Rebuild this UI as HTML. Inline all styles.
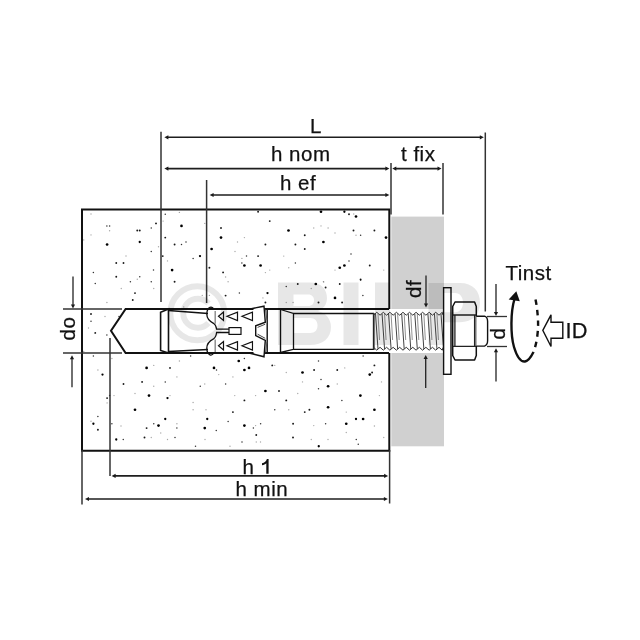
<!DOCTYPE html>
<html><head><meta charset="utf-8"><style>html,body{margin:0;padding:0;background:#fff;}svg{display:block;will-change:transform;}</style></head>
<body><svg width="640" height="640" viewBox="0 0 640 640">
<rect width="640" height="640" fill="#fff"/>
<rect x="391.3" y="216.6" width="52.7" height="229.7" fill="#d0d0d0"/>
<rect x="389" y="309" width="56" height="44" fill="#fff"/>
<circle cx="91" cy="214" r="0.7" fill="#000" opacity="0.35"/><circle cx="106.9" cy="225.9" r="0.75" fill="#000" opacity="0.8"/><circle cx="109.6" cy="225.9" r="0.75" fill="#000" opacity="0.8"/><circle cx="109.6" cy="230.75" r="0.7" fill="#000" opacity="0.35"/><circle cx="156" cy="223.4" r="0.95" fill="#000" opacity="0.9"/><circle cx="151.25" cy="228" r="0.75" fill="#000" opacity="0.8"/><circle cx="137.25" cy="230.5" r="0.95" fill="#000" opacity="0.9"/><circle cx="139.75" cy="230.5" r="0.95" fill="#000" opacity="0.9"/><circle cx="91" cy="234.9" r="0.7" fill="#000" opacity="0.35"/><circle cx="83.75" cy="239.9" r="0.7" fill="#000" opacity="0.35"/><circle cx="139.75" cy="242" r="1.15" fill="#000" opacity="1.0"/><circle cx="107.1" cy="244.5" r="1.35" fill="#000" opacity="1.0"/><circle cx="158.5" cy="246.75" r="0.7" fill="#000" opacity="0.35"/><circle cx="151.25" cy="251.5" r="0.75" fill="#000" opacity="0.8"/><circle cx="126" cy="256" r="0.7" fill="#000" opacity="0.35"/><circle cx="116.25" cy="263" r="0.95" fill="#000" opacity="0.9"/><circle cx="123.5" cy="263" r="0.95" fill="#000" opacity="0.9"/><circle cx="153.5" cy="270" r="0.75" fill="#000" opacity="0.8"/><circle cx="93.4" cy="272.6" r="0.75" fill="#000" opacity="0.8"/><circle cx="116.25" cy="276.75" r="0.95" fill="#000" opacity="0.9"/><circle cx="139.75" cy="276.75" r="0.75" fill="#000" opacity="0.8"/><circle cx="137.25" cy="279.25" r="0.7" fill="#000" opacity="0.35"/><circle cx="130.4" cy="281.75" r="0.75" fill="#000" opacity="0.8"/><circle cx="151.25" cy="281.75" r="0.75" fill="#000" opacity="0.8"/><circle cx="95.25" cy="283.6" r="0.75" fill="#000" opacity="0.8"/><circle cx="165.25" cy="214.25" r="0.75" fill="#000" opacity="0.8"/><circle cx="179.4" cy="212.4" r="0.7" fill="#000" opacity="0.35"/><circle cx="163.1" cy="221.1" r="0.7" fill="#000" opacity="0.35"/><circle cx="181.5" cy="225.9" r="1.35" fill="#000" opacity="1.0"/><circle cx="204.75" cy="223.4" r="0.7" fill="#000" opacity="0.35"/><circle cx="221" cy="228" r="0.95" fill="#000" opacity="0.9"/><circle cx="221" cy="237.6" r="1.35" fill="#000" opacity="1.0"/><circle cx="165.25" cy="237.6" r="0.95" fill="#000" opacity="0.9"/><circle cx="186" cy="242" r="0.75" fill="#000" opacity="0.8"/><circle cx="174.6" cy="244.5" r="0.95" fill="#000" opacity="0.9"/><circle cx="181.5" cy="244.5" r="0.75" fill="#000" opacity="0.8"/><circle cx="237.5" cy="242" r="0.7" fill="#000" opacity="0.35"/><circle cx="211.6" cy="249" r="1.35" fill="#000" opacity="1.0"/><circle cx="235" cy="251.5" r="0.7" fill="#000" opacity="0.35"/><circle cx="162.75" cy="256.1" r="0.95" fill="#000" opacity="0.9"/><circle cx="200" cy="256.1" r="1.15" fill="#000" opacity="1.0"/><circle cx="193.1" cy="258.4" r="0.75" fill="#000" opacity="0.8"/><circle cx="167.5" cy="260.9" r="0.7" fill="#000" opacity="0.35"/><circle cx="172.1" cy="270.1" r="1.35" fill="#000" opacity="1.0"/><circle cx="209.4" cy="267.75" r="0.95" fill="#000" opacity="0.9"/><circle cx="223.1" cy="272.4" r="0.95" fill="#000" opacity="0.9"/><circle cx="225.6" cy="277" r="0.7" fill="#000" opacity="0.35"/><circle cx="228.1" cy="281.75" r="0.7" fill="#000" opacity="0.35"/><circle cx="174.6" cy="281.75" r="0.95" fill="#000" opacity="0.9"/><circle cx="258.1" cy="211.75" r="0.95" fill="#000" opacity="0.9"/><circle cx="269.75" cy="221.1" r="0.95" fill="#000" opacity="0.9"/><circle cx="288.5" cy="230.5" r="1.35" fill="#000" opacity="1.0"/><circle cx="313.75" cy="228" r="0.7" fill="#000" opacity="0.35"/><circle cx="304.75" cy="235.25" r="0.95" fill="#000" opacity="0.9"/><circle cx="244.4" cy="237.6" r="0.7" fill="#000" opacity="0.35"/><circle cx="265.4" cy="244.5" r="0.95" fill="#000" opacity="0.9"/><circle cx="295.4" cy="244.5" r="0.95" fill="#000" opacity="0.9"/><circle cx="304.75" cy="249" r="0.95" fill="#000" opacity="0.9"/><circle cx="246.5" cy="256.1" r="0.75" fill="#000" opacity="0.8"/><circle cx="258.1" cy="256.1" r="0.95" fill="#000" opacity="0.9"/><circle cx="241.9" cy="258.4" r="0.7" fill="#000" opacity="0.35"/><circle cx="241.9" cy="263" r="0.75" fill="#000" opacity="0.8"/><circle cx="244.4" cy="265.5" r="1.35" fill="#000" opacity="1.0"/><circle cx="260.6" cy="265.5" r="1.35" fill="#000" opacity="1.0"/><circle cx="283.75" cy="256.1" r="0.7" fill="#000" opacity="0.35"/><circle cx="295.4" cy="263" r="0.75" fill="#000" opacity="0.8"/><circle cx="288.75" cy="267.75" r="0.7" fill="#000" opacity="0.35"/><circle cx="269.75" cy="270.1" r="0.7" fill="#000" opacity="0.35"/><circle cx="265.4" cy="272.6" r="0.7" fill="#000" opacity="0.35"/><circle cx="297.75" cy="284" r="0.95" fill="#000" opacity="0.9"/><circle cx="286.25" cy="286.5" r="0.75" fill="#000" opacity="0.8"/><circle cx="315.8" cy="284" r="1.35" fill="#000" opacity="1.0"/><circle cx="321" cy="211.75" r="1.35" fill="#000" opacity="1.0"/><circle cx="344.4" cy="211.75" r="1.15" fill="#000" opacity="1.0"/><circle cx="349" cy="214.25" r="0.95" fill="#000" opacity="0.9"/><circle cx="353.75" cy="214" r="0.7" fill="#000" opacity="0.35"/><circle cx="356" cy="216.5" r="1.35" fill="#000" opacity="1.0"/><circle cx="321" cy="225.9" r="0.7" fill="#000" opacity="0.35"/><circle cx="328.1" cy="228" r="0.7" fill="#000" opacity="0.35"/><circle cx="335" cy="233" r="0.7" fill="#000" opacity="0.35"/><circle cx="353.5" cy="230.5" r="0.95" fill="#000" opacity="0.9"/><circle cx="374.4" cy="230.5" r="0.95" fill="#000" opacity="0.9"/><circle cx="356" cy="235.25" r="0.7" fill="#000" opacity="0.35"/><circle cx="360.6" cy="235.25" r="0.75" fill="#000" opacity="0.8"/><circle cx="386" cy="237.6" r="1.35" fill="#000" opacity="1.0"/><circle cx="323.4" cy="242" r="1.35" fill="#000" opacity="1.0"/><circle cx="351" cy="253.9" r="0.75" fill="#000" opacity="0.8"/><circle cx="349" cy="260.9" r="0.75" fill="#000" opacity="0.8"/><circle cx="344.4" cy="265.5" r="1.35" fill="#000" opacity="1.0"/><circle cx="339.75" cy="267.75" r="1.35" fill="#000" opacity="1.0"/><circle cx="335" cy="270.1" r="0.7" fill="#000" opacity="0.35"/><circle cx="369.75" cy="265.5" r="0.95" fill="#000" opacity="0.9"/><circle cx="383.75" cy="270.1" r="0.7" fill="#000" opacity="0.35"/><circle cx="360.6" cy="279.5" r="0.95" fill="#000" opacity="0.9"/><circle cx="323.4" cy="281.75" r="0.7" fill="#000" opacity="0.35"/><circle cx="339.75" cy="284" r="0.95" fill="#000" opacity="0.9"/><circle cx="325.6" cy="287.5" r="0.95" fill="#000" opacity="0.9"/><circle cx="121.25" cy="288.5" r="0.7" fill="#000" opacity="0.35"/><circle cx="153.75" cy="288.5" r="0.7" fill="#000" opacity="0.35"/><circle cx="135" cy="293.1" r="0.95" fill="#000" opacity="0.9"/><circle cx="132.75" cy="300" r="0.95" fill="#000" opacity="0.9"/><circle cx="106.9" cy="302.5" r="0.7" fill="#000" opacity="0.35"/><circle cx="91" cy="314" r="0.95" fill="#000" opacity="0.9"/><circle cx="105" cy="316.5" r="0.7" fill="#000" opacity="0.35"/><circle cx="119" cy="316.5" r="0.75" fill="#000" opacity="0.8"/><circle cx="91" cy="321.25" r="0.75" fill="#000" opacity="0.8"/><circle cx="88.5" cy="328" r="0.7" fill="#000" opacity="0.35"/><circle cx="95.25" cy="332.9" r="0.95" fill="#000" opacity="0.9"/><circle cx="106.9" cy="335" r="0.75" fill="#000" opacity="0.8"/><circle cx="83.75" cy="351.5" r="0.7" fill="#000" opacity="0.35"/><circle cx="93.4" cy="356" r="0.75" fill="#000" opacity="0.8"/><circle cx="202.25" cy="295.4" r="0.7" fill="#000" opacity="0.35"/><circle cx="209.4" cy="295.4" r="0.7" fill="#000" opacity="0.35"/><circle cx="225.6" cy="295.6" r="0.95" fill="#000" opacity="0.9"/><circle cx="239.4" cy="293.1" r="0.75" fill="#000" opacity="0.8"/><circle cx="183.75" cy="306.9" r="0.7" fill="#000" opacity="0.35"/><circle cx="267.5" cy="293.1" r="1.15" fill="#000" opacity="1.0"/><circle cx="262.9" cy="297.9" r="0.7" fill="#000" opacity="0.35"/><circle cx="265.4" cy="302.5" r="0.95" fill="#000" opacity="0.9"/><circle cx="311.25" cy="288.5" r="0.7" fill="#000" opacity="0.35"/><circle cx="286.25" cy="302.5" r="0.7" fill="#000" opacity="0.35"/><circle cx="293.1" cy="302.5" r="0.7" fill="#000" opacity="0.35"/><circle cx="318.5" cy="302.5" r="0.95" fill="#000" opacity="0.9"/><circle cx="335" cy="297.9" r="1.35" fill="#000" opacity="1.0"/><circle cx="342.1" cy="302.5" r="0.95" fill="#000" opacity="0.9"/><circle cx="362.9" cy="295.4" r="0.75" fill="#000" opacity="0.8"/><circle cx="323.75" cy="281.9" r="0.7" fill="#000" opacity="0.35"/><circle cx="360.6" cy="280" r="0.75" fill="#000" opacity="0.8"/><circle cx="97.9" cy="370" r="0.7" fill="#000" opacity="0.35"/><circle cx="102.5" cy="374.6" r="1.15" fill="#000" opacity="1.0"/><circle cx="111.9" cy="358.5" r="0.7" fill="#000" opacity="0.35"/><circle cx="146.6" cy="367.9" r="1.35" fill="#000" opacity="1.0"/><circle cx="153.75" cy="365.4" r="0.7" fill="#000" opacity="0.35"/><circle cx="123.5" cy="384" r="0.95" fill="#000" opacity="0.9"/><circle cx="142.1" cy="381.9" r="0.95" fill="#000" opacity="0.9"/><circle cx="153.75" cy="386.25" r="0.7" fill="#000" opacity="0.35"/><circle cx="135" cy="393.5" r="0.7" fill="#000" opacity="0.35"/><circle cx="149" cy="395.6" r="1.35" fill="#000" opacity="1.0"/><circle cx="107.1" cy="398.1" r="0.95" fill="#000" opacity="0.9"/><circle cx="109.6" cy="395.6" r="0.75" fill="#000" opacity="0.8"/><circle cx="114" cy="395.6" r="0.7" fill="#000" opacity="0.35"/><circle cx="107.1" cy="402.9" r="0.7" fill="#000" opacity="0.35"/><circle cx="135" cy="409.75" r="1.35" fill="#000" opacity="1.0"/><circle cx="97.9" cy="416.6" r="0.75" fill="#000" opacity="0.8"/><circle cx="93.4" cy="423.75" r="1.15" fill="#000" opacity="1.0"/><circle cx="91" cy="421.25" r="0.7" fill="#000" opacity="0.35"/><circle cx="111.9" cy="423.75" r="0.75" fill="#000" opacity="0.8"/><circle cx="121" cy="426" r="0.7" fill="#000" opacity="0.35"/><circle cx="153.75" cy="423.75" r="0.75" fill="#000" opacity="0.8"/><circle cx="158.5" cy="425.6" r="1.35" fill="#000" opacity="1.0"/><circle cx="146.6" cy="428.1" r="0.95" fill="#000" opacity="0.9"/><circle cx="97.9" cy="429.8" r="0.95" fill="#000" opacity="0.9"/><circle cx="190.6" cy="356" r="0.75" fill="#000" opacity="0.8"/><circle cx="179.4" cy="361" r="0.7" fill="#000" opacity="0.35"/><circle cx="170" cy="367.9" r="0.95" fill="#000" opacity="0.9"/><circle cx="238.75" cy="361" r="1.35" fill="#000" opacity="1.0"/><circle cx="214" cy="367.9" r="1.35" fill="#000" opacity="1.0"/><circle cx="216.5" cy="370" r="0.75" fill="#000" opacity="0.8"/><circle cx="218.75" cy="374.6" r="0.7" fill="#000" opacity="0.35"/><circle cx="176.9" cy="376.9" r="0.7" fill="#000" opacity="0.35"/><circle cx="232.9" cy="376.9" r="0.7" fill="#000" opacity="0.35"/><circle cx="165.25" cy="381.9" r="0.75" fill="#000" opacity="0.8"/><circle cx="200.25" cy="386.25" r="0.75" fill="#000" opacity="0.8"/><circle cx="204.75" cy="384" r="0.7" fill="#000" opacity="0.35"/><circle cx="225.6" cy="384" r="0.75" fill="#000" opacity="0.8"/><circle cx="170" cy="395.6" r="0.7" fill="#000" opacity="0.35"/><circle cx="167.5" cy="398.1" r="1.15" fill="#000" opacity="1.0"/><circle cx="234.75" cy="395.6" r="0.7" fill="#000" opacity="0.35"/><circle cx="193.1" cy="402.5" r="0.7" fill="#000" opacity="0.35"/><circle cx="193.1" cy="409.75" r="0.7" fill="#000" opacity="0.35"/><circle cx="206" cy="409.75" r="0.7" fill="#000" opacity="0.35"/><circle cx="232.9" cy="412.1" r="0.95" fill="#000" opacity="0.9"/><circle cx="165.25" cy="419" r="1.15" fill="#000" opacity="1.0"/><circle cx="207.25" cy="419" r="1.15" fill="#000" opacity="1.0"/><circle cx="228.1" cy="421.5" r="0.75" fill="#000" opacity="0.8"/><circle cx="176.9" cy="423.75" r="0.7" fill="#000" opacity="0.35"/><circle cx="176.9" cy="428.1" r="0.75" fill="#000" opacity="0.8"/><circle cx="204.75" cy="428.1" r="1.35" fill="#000" opacity="1.0"/><circle cx="244.4" cy="358.5" r="0.75" fill="#000" opacity="0.8"/><circle cx="249" cy="367.9" r="1.35" fill="#000" opacity="1.0"/><circle cx="244.4" cy="370" r="1.35" fill="#000" opacity="1.0"/><circle cx="272.25" cy="365.4" r="0.95" fill="#000" opacity="0.9"/><circle cx="274.75" cy="365.4" r="0.7" fill="#000" opacity="0.35"/><circle cx="286.25" cy="372.5" r="0.7" fill="#000" opacity="0.35"/><circle cx="302.5" cy="372.5" r="1.35" fill="#000" opacity="1.0"/><circle cx="314.1" cy="370" r="0.95" fill="#000" opacity="0.9"/><circle cx="318.5" cy="361" r="0.75" fill="#000" opacity="0.8"/><circle cx="302.5" cy="381.9" r="0.7" fill="#000" opacity="0.35"/><circle cx="265.4" cy="391" r="1.35" fill="#000" opacity="1.0"/><circle cx="279" cy="391" r="0.95" fill="#000" opacity="0.9"/><circle cx="318.5" cy="388.75" r="0.75" fill="#000" opacity="0.8"/><circle cx="297.75" cy="393.5" r="0.7" fill="#000" opacity="0.35"/><circle cx="255.6" cy="395.6" r="0.7" fill="#000" opacity="0.35"/><circle cx="244.4" cy="400.4" r="0.95" fill="#000" opacity="0.9"/><circle cx="286.25" cy="400.4" r="0.95" fill="#000" opacity="0.9"/><circle cx="274.75" cy="409.75" r="0.75" fill="#000" opacity="0.8"/><circle cx="288.75" cy="409.75" r="0.7" fill="#000" opacity="0.35"/><circle cx="304.75" cy="412.1" r="0.95" fill="#000" opacity="0.9"/><circle cx="309.4" cy="409.75" r="0.95" fill="#000" opacity="0.9"/><circle cx="244.4" cy="425.6" r="1.35" fill="#000" opacity="1.0"/><circle cx="260.6" cy="423.75" r="0.75" fill="#000" opacity="0.8"/><circle cx="255.6" cy="425.6" r="0.7" fill="#000" opacity="0.35"/><circle cx="293.1" cy="423.75" r="0.95" fill="#000" opacity="0.9"/><circle cx="253.4" cy="428.1" r="0.75" fill="#000" opacity="0.8"/><circle cx="313.75" cy="425.6" r="0.7" fill="#000" opacity="0.35"/><circle cx="363.1" cy="356" r="0.75" fill="#000" opacity="0.8"/><circle cx="337.25" cy="370" r="0.95" fill="#000" opacity="0.9"/><circle cx="344.75" cy="367.9" r="0.7" fill="#000" opacity="0.35"/><circle cx="374.4" cy="365.4" r="0.95" fill="#000" opacity="0.9"/><circle cx="372.1" cy="372.5" r="0.95" fill="#000" opacity="0.9"/><circle cx="369.75" cy="374.6" r="1.35" fill="#000" opacity="1.0"/><circle cx="321" cy="379.4" r="0.75" fill="#000" opacity="0.8"/><circle cx="337.25" cy="384" r="0.7" fill="#000" opacity="0.35"/><circle cx="381.5" cy="381.9" r="0.7" fill="#000" opacity="0.35"/><circle cx="328.1" cy="386.25" r="1.35" fill="#000" opacity="1.0"/><circle cx="360.4" cy="395.6" r="1.35" fill="#000" opacity="1.0"/><circle cx="379.4" cy="395.6" r="0.7" fill="#000" opacity="0.35"/><circle cx="341.9" cy="400.4" r="0.75" fill="#000" opacity="0.8"/><circle cx="328.1" cy="407.25" r="1.35" fill="#000" opacity="1.0"/><circle cx="374.4" cy="409.75" r="1.35" fill="#000" opacity="1.0"/><circle cx="346.25" cy="412.1" r="0.7" fill="#000" opacity="0.35"/><circle cx="356" cy="419" r="1.15" fill="#000" opacity="1.0"/><circle cx="363.1" cy="419" r="1.35" fill="#000" opacity="1.0"/><circle cx="325.6" cy="423.75" r="0.75" fill="#000" opacity="0.8"/><circle cx="346.25" cy="423.75" r="1.35" fill="#000" opacity="1.0"/><circle cx="374.4" cy="426" r="0.7" fill="#000" opacity="0.35"/><circle cx="116.25" cy="439.5" r="1.15" fill="#000" opacity="1.0"/><circle cx="123.25" cy="439.5" r="0.75" fill="#000" opacity="0.8"/><circle cx="144.5" cy="437.5" r="0.95" fill="#000" opacity="0.9"/><circle cx="151.25" cy="437.5" r="0.7" fill="#000" opacity="0.35"/><circle cx="160.75" cy="433" r="0.7" fill="#000" opacity="0.35"/><circle cx="175" cy="437.5" r="0.75" fill="#000" opacity="0.8"/><circle cx="167.5" cy="439.5" r="0.7" fill="#000" opacity="0.35"/><circle cx="216.25" cy="430.5" r="0.75" fill="#000" opacity="0.8"/><circle cx="205" cy="439.5" r="0.7" fill="#000" opacity="0.35"/><circle cx="195.5" cy="446.25" r="0.75" fill="#000" opacity="0.8"/><circle cx="230" cy="446.25" r="0.7" fill="#000" opacity="0.35"/><circle cx="256.25" cy="435" r="0.95" fill="#000" opacity="0.9"/><circle cx="242" cy="442" r="0.75" fill="#000" opacity="0.8"/><circle cx="256.25" cy="442" r="0.7" fill="#000" opacity="0.35"/><circle cx="260.5" cy="442" r="0.7" fill="#000" opacity="0.35"/><circle cx="293" cy="437.5" r="0.95" fill="#000" opacity="0.9"/><circle cx="311.25" cy="439.5" r="0.7" fill="#000" opacity="0.35"/><circle cx="318.75" cy="446.25" r="1.15" fill="#000" opacity="1.0"/><circle cx="328" cy="439.5" r="0.7" fill="#000" opacity="0.35"/><circle cx="346.25" cy="432.5" r="0.7" fill="#000" opacity="0.35"/><circle cx="356.25" cy="439.5" r="0.75" fill="#000" opacity="0.8"/><circle cx="358.25" cy="444.25" r="0.75" fill="#000" opacity="0.8"/><circle cx="383.75" cy="437.5" r="0.7" fill="#000" opacity="0.35"/>
<path d="M389.3,309 V209.5 H82 V450.8 H389.3 V353" fill="none" stroke="#111" stroke-width="2"/>
<line x1="161" y1="131.8" x2="161" y2="302" stroke="#333" stroke-width="1.5"/><line x1="206.6" y1="180" x2="206.6" y2="303" stroke="#333" stroke-width="1.5"/><line x1="391" y1="163" x2="391" y2="214.5" stroke="#333" stroke-width="1.5"/><line x1="443" y1="163" x2="443" y2="214.5" stroke="#333" stroke-width="1.5"/><line x1="485.3" y1="132.5" x2="485.3" y2="311.5" stroke="#333" stroke-width="1.5"/><line x1="82" y1="450" x2="82" y2="504.5" stroke="#333" stroke-width="1.5"/><line x1="389.6" y1="450" x2="389.6" y2="503.5" stroke="#333" stroke-width="1.5"/><line x1="110" y1="338" x2="110" y2="476" stroke="#333" stroke-width="1.5"/><line x1="63" y1="309" x2="122" y2="309" stroke="#333" stroke-width="1.3"/><line x1="63" y1="353" x2="122" y2="353" stroke="#333" stroke-width="1.3"/><line x1="487" y1="316.5" x2="507" y2="316.5" stroke="#333" stroke-width="1.3"/><line x1="487" y1="346.5" x2="507" y2="346.5" stroke="#333" stroke-width="1.3"/><line x1="167.4" y1="137.3" x2="480.8" y2="137.3" stroke="#1e1e1e" stroke-width="1.6"/><polygon points="164.40,137.30 168.40,135.20 168.40,139.40" fill="#1a1a1a"/><polygon points="483.80,137.30 479.80,135.20 479.80,139.40" fill="#1a1a1a"/><line x1="167.4" y1="168.6" x2="386.4" y2="168.6" stroke="#1e1e1e" stroke-width="1.6"/><polygon points="164.40,168.60 168.40,166.50 168.40,170.70" fill="#1a1a1a"/><polygon points="389.40,168.60 385.40,166.50 385.40,170.70" fill="#1a1a1a"/><line x1="395.3" y1="168.6" x2="438.5" y2="168.6" stroke="#1e1e1e" stroke-width="1.6"/><polygon points="392.30,168.60 396.30,166.50 396.30,170.70" fill="#1a1a1a"/><polygon points="441.50,168.60 437.50,166.50 437.50,170.70" fill="#1a1a1a"/><line x1="212.6" y1="195" x2="386.4" y2="195" stroke="#1e1e1e" stroke-width="1.6"/><polygon points="209.60,195.00 213.60,192.90 213.60,197.10" fill="#1a1a1a"/><polygon points="389.40,195.00 385.40,192.90 385.40,197.10" fill="#1a1a1a"/><line x1="114.6" y1="475.9" x2="385.1" y2="475.9" stroke="#1e1e1e" stroke-width="1.6"/><polygon points="111.60,475.90 115.60,473.80 115.60,478.00" fill="#1a1a1a"/><polygon points="388.10,475.90 384.10,473.80 384.10,478.00" fill="#1a1a1a"/><line x1="88" y1="499" x2="384.9" y2="499" stroke="#1e1e1e" stroke-width="1.6"/><polygon points="85.00,499.00 89.00,496.90 89.00,501.10" fill="#1a1a1a"/><polygon points="387.90,499.00 383.90,496.90 383.90,501.10" fill="#1a1a1a"/><line x1="73" y1="276.6" x2="73" y2="305.4" stroke="#222" stroke-width="1.3"/><polygon points="73.00,308.40 70.90,304.40 75.10,304.40" fill="#1a1a1a"/><line x1="72" y1="358.3" x2="72" y2="387.2" stroke="#222" stroke-width="1.3"/><polygon points="72.00,355.30 69.90,359.30 74.10,359.30" fill="#1a1a1a"/><line x1="426" y1="275.6" x2="426" y2="304.6" stroke="#222" stroke-width="1.3"/><polygon points="426.00,307.60 423.90,303.60 428.10,303.60" fill="#1a1a1a"/><line x1="425.7" y1="358" x2="425.7" y2="388" stroke="#222" stroke-width="1.3"/><polygon points="425.70,355.00 423.60,359.00 427.80,359.00" fill="#1a1a1a"/><line x1="496" y1="284" x2="496" y2="313" stroke="#222" stroke-width="1.3"/><polygon points="496.00,316.00 493.90,312.00 498.10,312.00" fill="#1a1a1a"/><line x1="496" y1="351.3" x2="496" y2="381.6" stroke="#222" stroke-width="1.3"/><polygon points="496.00,348.30 493.90,352.30 498.10,352.30" fill="#1a1a1a"/>
<polyline points="389,309 125.6,309 111,330.8 125.6,353 389,353" stroke="#111" fill="none" stroke-width="2"/><path d="M168.5,309 L160.6,312.3 L160.6,350.5 L168.5,353 Z" stroke="#111" fill="none" stroke-width="1.6" fill="#fff"/><path d="M168.5,310.5 L208,313.5 M168.5,351.5 L208,349.5" stroke="#111" fill="none" stroke-width="1.3"/><path d="M213.8,309 C212.5,307.3 211,306.9 210,307.4 C208,308.4 206.8,311 206.8,314 C206.8,318 210,321.5 213.5,323.3 C215.2,324.3 216.2,326.5 216.6,329.2 H229" stroke="#111" fill="none" stroke-width="1.3" fill="#fff"/><path d="M213.8,353.2 C212.5,354.9 211,355.3 210,354.8 C208,353.8 206.8,351.2 206.8,348.2 C206.8,344.2 210,340.7 213.5,338.9 C215.2,337.9 216.2,335.5 216.6,332.5 H229" stroke="#111" fill="none" stroke-width="1.3" fill="#fff"/><line x1="215.2" y1="311" x2="215.2" y2="323.8" stroke="#888" stroke-width="1.4"/><line x1="215.2" y1="339.6" x2="215.2" y2="351.9" stroke="#888" stroke-width="1.4"/><rect x="229" y="327.6" width="12" height="6.8" stroke="#111" fill="none" stroke-width="1.2"/><polygon points="218.5,316.3 223.5,312.1 223.5,320.5" stroke="#111" fill="none" stroke-width="1.2"/><polygon points="218.5,345.8 223.5,341.6 223.5,350.0" stroke="#111" fill="none" stroke-width="1.2"/><polygon points="227,316.3 237.5,312.1 237.5,320.5" stroke="#111" fill="none" stroke-width="1.2"/><polygon points="227,345.8 237.5,341.6 237.5,350.0" stroke="#111" fill="none" stroke-width="1.2"/><polygon points="242,316.3 252.5,312.1 252.5,320.5" stroke="#111" fill="none" stroke-width="1.2"/><polygon points="242,345.8 252.5,341.6 252.5,350.0" stroke="#111" fill="none" stroke-width="1.2"/><path d="M253.5,308.5 L264,306.2 L265.3,322.2 L255.7,325.8 L255.7,335.6 L265.3,340.3 L264,356.8 L253.5,353.6 Z" fill="#fff" stroke="none"/><path d="M249,309.1 L264,306.2 L265.3,322.2 L255.7,325.8 L255.7,335.6 L265.3,340.3 L264,356.8 L249,353.1" stroke="#111" fill="none" stroke-width="1.4"/><path d="M265.2,324.2 L257.6,327.4 M265.2,338.3 L257.6,334.2" fill="none" stroke="#333" stroke-width="0.9"/><path d="M267.2,309 L267.2,353 M280.5,309 L280.5,353" stroke="#111" fill="none" stroke-width="1.4"/><path d="M265.4,309.5 L267,320 M265.4,352.5 L267,342" fill="none" stroke="#444" stroke-width="0.8"/><path d="M280.5,309.5 L293.5,313.5 L293.5,349.3 L280.5,352.5" stroke="#111" fill="none" stroke-width="1.3"/><path d="M293.5,313.5 H373.5 V349.3 H293.5" stroke="#111" fill="none" stroke-width="1.3"/><path d="M373.5,313.5 L373.50,315.2 L376.77,312.3 L380.05,315.2 L383.32,312.3 L386.60,315.2 L389.88,312.3 L393.15,315.2 L396.42,312.3 L399.70,315.2 L402.97,312.3 L406.25,315.2 L409.52,312.3 L412.80,315.2 L416.07,312.3 L419.35,315.2 L422.62,312.3 L425.90,315.2 L429.17,312.3 L432.45,315.2 L435.72,312.3 L439.00,315.2 L442.27,312.3 L443,315" fill="none" stroke="#333" stroke-width="1"/><path d="M373.5,349.3 L373.50,347.3 L376.77,350.2 L380.05,347.3 L383.32,350.2 L386.60,347.3 L389.88,350.2 L393.15,347.3 L396.42,350.2 L399.70,347.3 L402.97,350.2 L406.25,347.3 L409.52,350.2 L412.80,347.3 L416.07,350.2 L419.35,347.3 L422.62,350.2 L425.90,347.3 L429.17,350.2 L432.45,347.3 L435.72,350.2 L439.00,347.3 L442.27,350.2 L443,347.5" fill="none" stroke="#333" stroke-width="1"/><line x1="375.50" y1="314" x2="378.00" y2="349" stroke="#444" stroke-width="1.0"/><line x1="378.00" y1="314" x2="379.50" y2="340" stroke="#777" stroke-width="0.8"/><line x1="382.05" y1="314" x2="384.55" y2="349" stroke="#444" stroke-width="1.0"/><line x1="384.55" y1="314" x2="386.05" y2="340" stroke="#777" stroke-width="0.8"/><line x1="388.60" y1="314" x2="391.10" y2="349" stroke="#444" stroke-width="1.0"/><line x1="391.10" y1="314" x2="392.60" y2="340" stroke="#777" stroke-width="0.8"/><line x1="395.15" y1="314" x2="397.65" y2="349" stroke="#444" stroke-width="1.0"/><line x1="397.65" y1="314" x2="399.15" y2="340" stroke="#777" stroke-width="0.8"/><line x1="401.70" y1="314" x2="404.20" y2="349" stroke="#444" stroke-width="1.0"/><line x1="404.20" y1="314" x2="405.70" y2="340" stroke="#777" stroke-width="0.8"/><line x1="408.25" y1="314" x2="410.75" y2="349" stroke="#444" stroke-width="1.0"/><line x1="410.75" y1="314" x2="412.25" y2="340" stroke="#777" stroke-width="0.8"/><line x1="414.80" y1="314" x2="417.30" y2="349" stroke="#444" stroke-width="1.0"/><line x1="417.30" y1="314" x2="418.80" y2="340" stroke="#777" stroke-width="0.8"/><line x1="421.35" y1="314" x2="423.85" y2="349" stroke="#444" stroke-width="1.0"/><line x1="423.85" y1="314" x2="425.35" y2="340" stroke="#777" stroke-width="0.8"/><line x1="427.90" y1="314" x2="430.40" y2="349" stroke="#444" stroke-width="1.0"/><line x1="430.40" y1="314" x2="431.90" y2="340" stroke="#777" stroke-width="0.8"/><line x1="434.45" y1="314" x2="436.95" y2="349" stroke="#444" stroke-width="1.0"/><line x1="436.95" y1="314" x2="438.45" y2="340" stroke="#777" stroke-width="0.8"/><line x1="441.00" y1="314" x2="443.50" y2="349" stroke="#444" stroke-width="1.0"/><line x1="443.50" y1="314" x2="445.00" y2="340" stroke="#777" stroke-width="0.8"/><line x1="374" y1="313" x2="374" y2="350" stroke="#333" stroke-width="1.2"/><rect x="443.6" y="287.7" width="7.4" height="86.6" fill="#fff" stroke="#111" stroke-width="1.4"/><path d="M455,302 H474.6 L476.3,306.5 V355.5 L474.6,360 H455 L452.7,355.5 V306.5 Z" fill="#fff" stroke="#111" stroke-width="1.5" stroke-linejoin="round"/><path d="M452.7,315 H476.3 M452.7,346.3 H476.3 M454.9,315 V346.3 M474.6,315 V346.3" fill="none" stroke="#222" stroke-width="1.3"/><path d="M476.3,316.2 H484.5 Q487.6,317.2 487.6,321.5 V340.8 Q487.6,345 484.5,346.1 H476.3" fill="#fff" stroke="#111" stroke-width="1.4"/>
<path d="M514.5,299 C510.5,312 510.5,335 514,347 C517,357 521,362 525,361.5 C528,361 531,357 533.5,352" fill="none" stroke="#111" stroke-width="2.4"/><polygon points="516.3,291.2 508.7,299.5 519.8,301.3" fill="#111"/><path d="M535.5,299.5 C536.5,304 537.5,311 538,320 C538.5,330 537,343 533.5,352" fill="none" stroke="#111" stroke-width="2.4" stroke-dasharray="5.6,5"/><polygon points="542.8,330.3 551,314.8 551,322.3 562.8,322.3 562.8,338.2 551,338.2 551,346.5" fill="#fff" stroke="#111" stroke-width="1.4"/>
<g font-family="Liberation Sans, sans-serif" font-size="20.5" fill="#111" stroke="#111" stroke-width="0.25" letter-spacing="0.5"><text x="310" y="133" text-anchor="start" >L</text><text x="271" y="161.3" text-anchor="start" >h nom</text><text x="401" y="161.3" text-anchor="start" >t fix</text><text x="280" y="190.4" text-anchor="start" >h ef</text><text x="242.6" y="473.8" text-anchor="start" >h</text><text x="235.5" y="495.6" text-anchor="start" >h min</text><text x="505.5" y="280" text-anchor="start" >Tinst</text><text x="565.5" y="337.9" text-anchor="start" font-size="21.8" letter-spacing="0.1">ID</text><text transform="translate(75.3,340.5) rotate(-90)">do</text><text transform="translate(420.5,298) rotate(-90)">df</text><text transform="translate(505,339.5) rotate(-90)">d</text><path d="M266.3,473.75 H268.6 V458.9 H266.9 C266.3,461 264.5,462.6 262,463.2 V465.3 C263.8,464.9 265.3,464.2 266.3,463.3 Z" stroke="none"/></g>
<g fill="#000" opacity="0.09"><circle cx="197.3" cy="313.2" r="27" fill="none" stroke="#000" stroke-width="6"/><path d="M208.5,303.5 A14.5,14.5 0 1 0 208.5,323" fill="none" stroke="#000" stroke-width="6"/><path fill-rule="evenodd" d="M278,282.5 H310 C322,282.5 327,290 327,298 C327,305 323,309 318,311 C326,313 331,319 331,327 C331,338 323,345 310,345 H278 Z M293.5,294.5 V306 H308 C312,306 314,303.5 314,300.2 C314,297 312,294.5 308,294.5 Z M293.5,318 V333 H310 C315,333 317.5,330 317.5,325.5 C317.5,321 315,318 310,318 Z"/><rect x="343.5" y="282.5" width="15" height="62.5"/><rect x="375" y="282.5" width="15" height="62.5"/><path fill-rule="evenodd" d="M428.5,282.9 H460 C473,282.9 480,291 480,302.6 C480,314 473,322.3 460,322.3 H443.5 V345 H428.5 Z M443.5,292.9 V312.3 H455 C460,312.3 463,308 463,302.6 C463,297 460,292.9 455,292.9 Z"/></g>
</svg></body></html>
